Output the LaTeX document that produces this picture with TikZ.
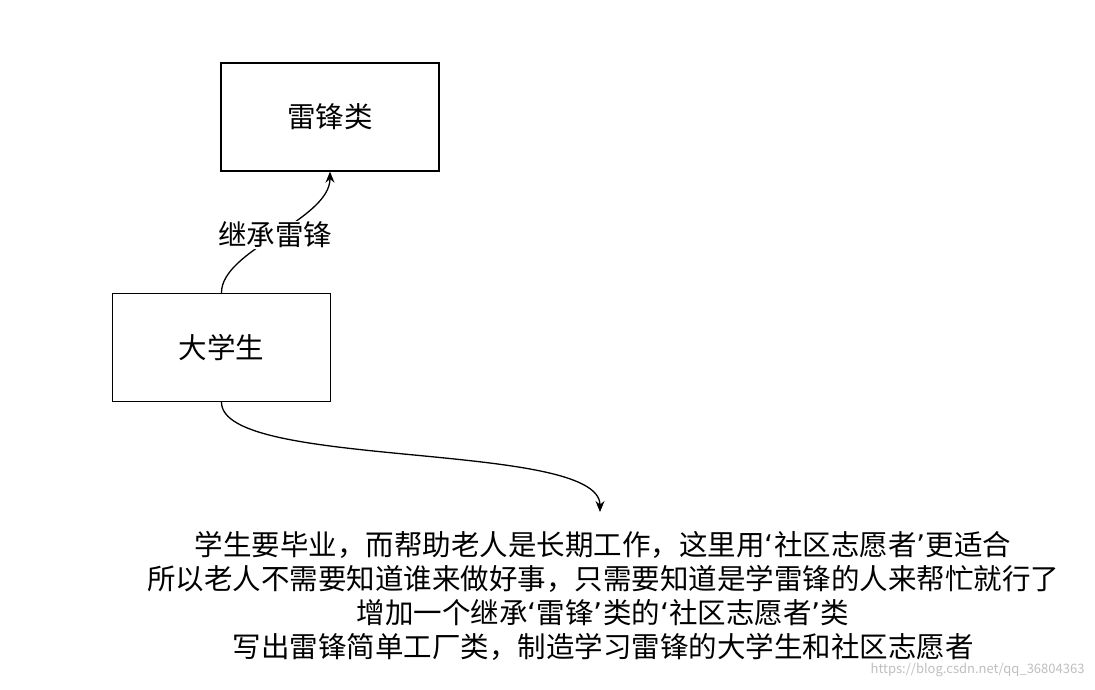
\documentclass[tikz,border=0pt]{standalone}
\usepackage{fontspec}
\setmainfont{Noto Sans CJK SC}
\newfontfamily\latq{DejaVu Sans}
\newcommand{\myLq}{{\latq ‘}}
\newcommand{\myRq}{{\latq ’}}
\usetikzlibrary{arrows.meta}
\begin{document}
\begin{tikzpicture}[x=1pt,y=-1pt,
  box/.style={draw,line width=1.3pt,minimum width=218pt,minimum height=108pt,font=\fontsize{28.5}{32}\selectfont},
  conn/.style={line width=1.3pt,-{Stealth[length=11pt,width=9pt]}},
  txt/.style={font=\fontsize{28.5}{34}\selectfont,align=center}]
\useasboundingbox (0,0) rectangle (1095,689);
\fill[white] (0,0) rectangle (1095,689);
\node[box] (lf) at (330,117) {雷锋类};
\node[box] (dx) at (221.5,347.5) {大学生};
\coordinate (e2) at (600,512);
\draw[conn] (dx.north) .. controls (221,250) and (330,220) .. (lf.south);
\node[font=\fontsize{28.5}{32}\selectfont,fill=white,inner sep=1pt] (lb) at (275,235) {继承雷锋};
\draw[conn] (dx.south) .. controls (221,470) and (600,440) .. (e2);
\node[txt] (t) at (603,596) {学生要毕业，而帮助老人是长期工作，这里用\myLq 社区志愿者\myRq 更适合\\所以老人不需要知道谁来做好事，只需要知道是学雷锋的人来帮忙就行了\\增加一个继承\myLq 雷锋\myRq 类的\myLq 社区志愿者\myRq 类\\写出雷锋简单工厂类，制造学习雷锋的大学生和社区志愿者};
\node[text=gray!50,font=\fontsize{13}{15}\selectfont,anchor=east] (wm) at (1088,670) {https://blog.csdn.net/qq\_36804363};
\end{tikzpicture}
\end{document}
